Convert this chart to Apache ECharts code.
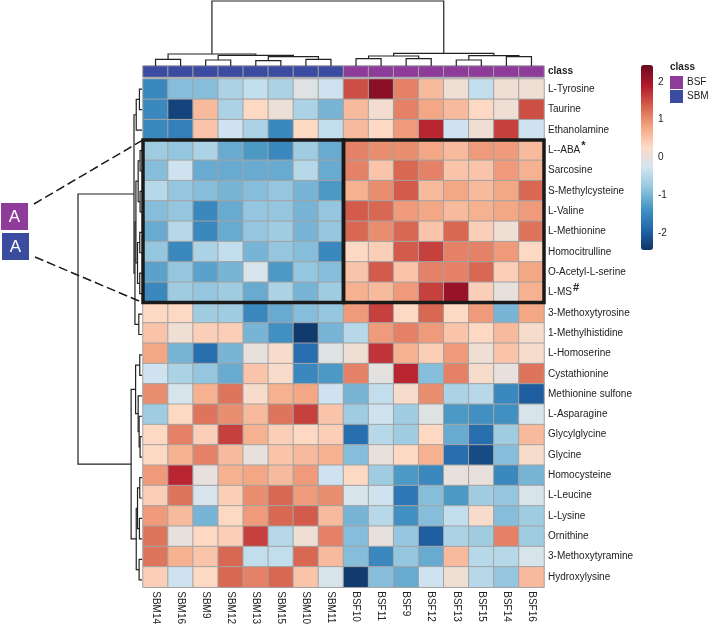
<!DOCTYPE html>
<html>
<head>
<meta charset="utf-8">
<script src="https://cdn.jsdelivr.net/npm/echarts@6/dist/echarts.min.js"></script>
<style>
  html, body { margin: 0; padding: 0; background: #fff; }
  #heatmap { width: 708px; height: 627px; }
</style>
</head>
<body>
<div id="heatmap"></div>
<script>
// samples (columns), in dendrogram order
var sampleNames = ['SBM14', 'SBM16', 'SBM9', 'SBM12', 'SBM13', 'SBM15', 'SBM10', 'SBM11',
  'BSF10', 'BSF11', 'BSF9', 'BSF12', 'BSF13', 'BSF15', 'BSF14', 'BSF16'];
var sampleClass = ['SBM', 'SBM', 'SBM', 'SBM', 'SBM', 'SBM', 'SBM', 'SBM',
  'BSF', 'BSF', 'BSF', 'BSF', 'BSF', 'BSF', 'BSF', 'BSF'];
var classNames = ['SBM', 'BSF'];

// metabolites (rows), top to bottom
var metabolites = ['L-Tyrosine', 'Taurine', 'Ethanolamine', 'L--ABA', 'Sarcosine', 'S-Methylcysteine',
  'L-Valine', 'L-Methionine', 'Homocitrulline', 'O-Acetyl-L-serine', 'L-MS', '3-Methoxytyrosine',
  '1-Methylhistidine', 'L-Homoserine', 'Cystathionine', 'Methionine sulfone', 'L-Asparagine',
  'Glycylglycine', 'Glycine', 'Homocysteine', 'L-Leucine', 'L-Lysine', 'Ornithine',
  '3-Methoxytyramine', 'Hydroxylysine'];
var labelMarks = { 'L--ABA': '*', 'L-MS': '#' };

// scaled intensities, one row per metabolite
var zScores = [
  [-1.5, -0.9, -0.9, -0.6, -0.4, -0.6, -0.1, -0.3, 1.5, 2.2, 1.1, 0.6, 0.1, -0.4, 0.1, 0.1],
  [-1.5, -2.3, 0.6, -0.6, 0.3, 0.05, -0.6, -1.0, 0.6, 0.15, 1.1, 0.8, 0.6, 0.3, 0.1, 1.5],
  [-1.5, -1.6, 0.5, -0.3, -0.6, -1.5, 0.3, -0.4, 0.6, 0.3, 0.9, 1.8, -0.3, 0.1, 1.6, -0.3],
  [-0.7, -0.8, -0.6, -1.1, -1.3, -1.5, -0.7, -1.1, 1.1, 1.0, 1.0, 0.8, 0.6, 0.9, 0.9, 0.6],
  [-0.9, -0.3, -1.1, -1.1, -1.1, -1.1, -0.5, -1.1, 1.1, 0.5, 1.3, 1.1, 0.5, 0.5, 0.9, 0.7],
  [-0.5, -0.8, -0.9, -1.0, -0.9, -0.8, -1.0, -1.3, 0.7, 1.0, 1.4, 0.6, 0.8, 0.6, 0.8, 1.3],
  [-0.9, -0.8, -1.5, -1.1, -0.8, -0.8, -1.0, -0.8, 1.4, 1.3, 0.9, 0.8, 0.6, 0.7, 0.8, 0.9],
  [-1.1, -0.5, -1.5, -1.1, -0.8, -0.7, -1.0, -0.8, 1.3, 1.0, 1.3, 0.5, 1.3, 0.4, 0.1, 1.2],
  [-0.8, -1.5, -0.6, -0.4, -1.0, -0.8, -0.9, -1.5, 0.3, 0.4, 1.4, 1.6, 1.1, 1.1, 0.9, 0.3],
  [-1.2, -0.8, -1.2, -1.0, -0.2, -1.3, -0.8, -0.9, 0.5, 1.4, 0.5, 1.1, 1.1, 1.3, 0.4, 0.8],
  [-1.5, -0.7, -0.8, -0.7, -1.1, -0.6, -1.0, -0.7, 0.7, 0.6, 0.9, 1.6, 2.1, 0.4, 0.0, 0.7],
  [0.3, 0.3, -0.7, -0.7, -1.5, -1.1, -0.9, -0.8, 0.9, 1.6, 0.3, 1.3, 0.3, 0.9, -1.0, 0.8],
  [0.5, 0.1, 0.4, 0.4, -1.0, -1.4, -2.4, -1.0, -0.5, 0.9, 1.1, 0.9, 0.5, 0.3, 0.6, 0.2],
  [0.8, -1.0, -1.8, -1.0, 0.0, 0.2, -1.8, -0.1, 0.1, 1.7, 0.7, 0.4, 0.9, 0.1, 0.5, 0.2],
  [-0.3, -0.6, -0.8, -1.1, 0.5, 0.2, -1.5, -1.3, 1.1, -0.05, 1.8, -0.9, 1.1, 0.2, 0.0, 1.2],
  [1.0, -0.2, 0.7, 1.2, 0.2, 0.7, 0.8, -0.3, -1.0, -0.4, 0.2, 1.0, -0.6, -0.5, -1.5, -2.0],
  [-0.7, 0.3, 1.2, 1.0, 0.6, 1.2, 1.6, 0.5, -0.7, -0.3, -0.7, -0.1, -1.3, -1.4, -1.4, -0.2],
  [0.3, 1.1, 0.4, 1.6, 0.7, 0.4, 0.3, 0.4, -1.8, -0.5, -0.7, 0.3, -1.1, -1.8, -0.7, 0.6],
  [0.3, 0.7, 1.1, 0.6, 0.0, 0.5, 0.6, 0.7, -0.9, 0.0, 0.3, 0.7, -1.8, -2.2, -0.9, 0.2],
  [0.9, 1.8, 0.0, 0.7, 0.8, 0.6, 0.9, -0.3, 0.3, -0.7, -1.3, -1.5, 0.0, 0.0, -1.5, -1.0],
  [0.4, 1.2, -0.2, 0.4, 1.0, 1.3, 0.9, 1.0, -0.2, -0.3, -1.7, -0.9, -1.3, -0.7, -0.8, -0.2],
  [0.9, 0.6, -1.0, 0.3, 0.9, 1.3, 1.4, 0.6, -1.0, -0.5, -1.4, -0.9, -0.4, 0.2, -0.9, -0.7],
  [1.2, 0.0, 0.3, 0.4, 1.6, -0.5, 0.1, 1.1, -0.9, 0.0, -0.8, -2.0, -0.6, -0.7, 1.1, -0.7],
  [1.2, 0.7, 0.5, 1.3, -0.4, -0.4, 1.3, 0.6, -0.9, -1.5, -0.8, -1.1, 0.6, -0.5, -0.5, -0.2],
  [0.4, -0.3, 0.3, 1.3, 1.1, 1.3, 0.5, -0.2, -2.4, -0.9, -1.1, -0.3, 0.1, -0.5, -0.8, 0.6]
];

// dendrograms: [childA, childB, height]; leaves are 0..n-1, merge k becomes node n+k
var sampleMerges = [
  [0, 1, 1.03], [2, 3, 0.92], [4, 5, 0.82], [6, 7, 1.03], [18, 19, 1.44], [17, 20, 1.64],
  [16, 21, 1.85], [8, 9, 1.13], [10, 11, 1.13], [23, 24, 1.54], [12, 13, 0.92], [14, 15, 1.44],
  [26, 27, 1.59], [25, 28, 1.95], [22, 29, 10]
];
var metaboliteMerges = [
  [0, 1, 0.4], [25, 2, 0.9], [3, 4, 0.3], [5, 6, 0.3], [27, 28, 0.6], [7, 8, 0.35],
  [9, 10, 0.35], [30, 31, 0.7], [29, 32, 0.95], [11, 12, 0.5], [33, 34, 1.1], [26, 35, 1.25],
  [13, 14, 0.35], [17, 18, 0.3], [16, 38, 0.45], [15, 39, 0.6], [37, 40, 1.0], [19, 20, 0.35],
  [21, 22, 0.4], [42, 43, 0.7], [23, 24, 0.45], [44, 45, 0.9], [41, 46, 1.7], [36, 47, 10]
];

// highlighted blocks: [firstCol, lastCol, firstRow, lastRow]
var boxes = [[0, 7, 3, 10], [8, 15, 3, 10]];

var colorRamp = ['#0f3568', '#2166AC', '#4393C3', '#92C5DE', '#D1E5F0',
  '#FDDBC7', '#F4A582', '#D6604D', '#B2182B', '#6a0a20'];
var classColors = { 'BSF': '#8e3b9a', 'SBM': '#3b4ba0' };
var fontName = '"Liberation Sans", Arial, sans-serif';

// turn a merge list into U-shaped links [posA, hA, posB, hB, h]
function dendroLinks(merges, n) {
  var pos = [], hgt = [];
  for (var i = 0; i < n; i++) { pos.push(i); hgt.push(0); }
  var links = [];
  merges.forEach(function (m) {
    var a = m[0], b = m[1];
    links.push([pos[a], hgt[a], pos[b], hgt[b], m[2]]);
    pos.push((pos[a] + pos[b]) / 2);
    hgt.push(m[2]);
  });
  return links;
}

var cellData = [];
for (var r = 0; r < metabolites.length; r++) {
  for (var c = 0; c < sampleNames.length; c++) {
    cellData.push([c, r, zScores[r][c]]);
  }
}
var classData = sampleClass.map(function (k, c) { return [c, 0, classNames.indexOf(k)]; });

var chart = echarts.init(document.getElementById('heatmap'));

var option = {
  backgroundColor: '#fff',
  animation: false,
  textStyle: { fontFamily: fontName },
  grid: [
    { left: 143, top: 79, width: 401, height: 511 },  // heatmap
    { left: 143, top: 66, width: 401, height: 11 },   // class bar
    { left: 143, top: 1, width: 401, height: 65 },    // sample tree
    { left: 78, top: 79, width: 64, height: 511 },    // metabolite tree
    { left: 641, top: 65, width: 12, height: 185 }    // colour key ticks
  ],
  xAxis: [
    {
      type: 'category', gridIndex: 0, data: sampleNames, position: 'bottom',
      axisLine: { show: false }, axisTick: { show: false }, splitLine: { show: false },
      axisLabel: { rotate: -90, margin: 4, fontSize: 10, color: '#222', interval: 0 }
    },
    { type: 'category', gridIndex: 1, data: sampleNames, show: false },
    { type: 'value', gridIndex: 2, min: -0.5, max: 15.5, show: false },
    { type: 'value', gridIndex: 3, min: 0, max: 10, inverse: true, show: false },
    { type: 'value', gridIndex: 4, show: false }
  ],
  yAxis: [
    {
      type: 'category', gridIndex: 0, data: metabolites, inverse: true, position: 'right',
      axisLine: { show: false }, axisTick: { show: false }, splitLine: { show: false },
      axisLabel: {
        margin: 4, fontSize: 10, color: '#222', interval: 0,
        formatter: function (v) {
          return labelMarks[v] ? '{n|' + v + '}{s|' + labelMarks[v] + '}' : v;
        },
        rich: {
          n: { fontSize: 10, color: '#222' },
          s: { fontSize: 11, color: '#222', fontWeight: 'bold', padding: [0, 0, 8, 1] }
        }
      }
    },
    {
      type: 'category', gridIndex: 1, data: ['class'], position: 'right',
      axisLine: { show: false }, axisTick: { show: false },
      axisLabel: { margin: 4, fontSize: 10, fontWeight: 'bold', color: '#222' }
    },
    { type: 'value', gridIndex: 2, min: 0, max: 10, show: false },
    { type: 'value', gridIndex: 3, min: -0.5, max: 24.5, inverse: true, show: false },
    {
      type: 'value', gridIndex: 4, min: -2.45, max: 2.45, position: 'right',
      axisLine: { show: false }, axisTick: { show: false }, splitLine: { show: false },
      axisLabel: {
        margin: 5, fontSize: 10, color: '#222', showMinLabel: false, showMaxLabel: false,
        formatter: function (v) { return Math.abs(v - Math.round(v)) < 1e-6 ? String(Math.round(v)) : ''; }
      }
    }
  ],
  visualMap: [
    {
      type: 'continuous', seriesIndex: 0, min: -2.45, max: 2.45,
      inRange: { color: colorRamp }, calculable: false, orient: 'vertical',
      left: 641, top: 65, itemWidth: 12, itemHeight: 185, padding: 0, text: null,
      hoverLink: false
    },
    {
      type: 'piecewise', seriesIndex: 1, dimension: 2, orient: 'vertical', align: 'left',
      itemSymbol: 'rect',
      pieces: [
        { value: 1, label: 'BSF', color: classColors.BSF },
        { value: 0, label: 'SBM', color: classColors.SBM }
      ],
      left: 670, top: 76, itemWidth: 13, itemHeight: 13, itemGap: 1, textGap: 4,
      padding: 0, selectedMode: false, hoverLink: false,
      textStyle: { fontSize: 10, color: '#222' }
    }
  ],
  series: [
    {
      type: 'heatmap', xAxisIndex: 0, yAxisIndex: 0, data: cellData,
      itemStyle: { borderColor: '#a3a3a3', borderWidth: 1 },
      emphasis: { disabled: true }
    },
    {
      type: 'heatmap', xAxisIndex: 1, yAxisIndex: 1, data: classData,
      itemStyle: { borderColor: '#a3a3a3', borderWidth: 1 },
      emphasis: { disabled: true }
    },
    {
      type: 'custom', xAxisIndex: 2, yAxisIndex: 2, clip: false,
      data: dendroLinks(sampleMerges, sampleNames.length),
      renderItem: function (params, api) {
        var pts = [
          api.coord([api.value(0), api.value(1)]),
          api.coord([api.value(0), api.value(4)]),
          api.coord([api.value(2), api.value(4)]),
          api.coord([api.value(2), api.value(3)])
        ];
        return { type: 'polyline', shape: { points: pts }, style: { stroke: '#222', lineWidth: 1.2, fill: null } };
      }
    },
    {
      type: 'custom', xAxisIndex: 3, yAxisIndex: 3, clip: false,
      data: dendroLinks(metaboliteMerges, metabolites.length),
      renderItem: function (params, api) {
        var pts = [
          api.coord([api.value(1), api.value(0)]),
          api.coord([api.value(4), api.value(0)]),
          api.coord([api.value(4), api.value(2)]),
          api.coord([api.value(3), api.value(2)])
        ];
        return { type: 'polyline', shape: { points: pts }, style: { stroke: '#222', lineWidth: 1.2, fill: null } };
      }
    },
    {
      type: 'custom', xAxisIndex: 0, yAxisIndex: 0, clip: false, z: 5,
      data: boxes,
      renderItem: function (params, api) {
        var a = api.coord([api.value(0), api.value(2)]);
        var b = api.coord([api.value(1), api.value(3)]);
        var s = api.size([1, 1]);
        return {
          type: 'rect',
          shape: { x: a[0] - s[0] / 2, y: a[1] - s[1] / 2, width: b[0] - a[0] + s[0], height: b[1] - a[1] + s[1] },
          style: { stroke: '#1a1a1a', lineWidth: 3.5, fill: null }
        };
      }
    }
  ]
};

chart.setOption(option);

// callouts from the "A" tags to the left edge of the highlighted block
var cellW = 401 / sampleNames.length, cellH = 511 / metabolites.length;
var topCell = chart.convertToPixel({ gridIndex: 0 }, [boxes[0][0], boxes[0][2]]);
var botCell = chart.convertToPixel({ gridIndex: 0 }, [boxes[0][0], boxes[0][3]]);
var topCorner = [topCell[0] - cellW / 2, topCell[1] - cellH / 2];
var botCorner = [botCell[0] - cellW / 2, botCell[1] + cellH / 2];

chart.setOption({
  graphic: [
    { type: 'text', left: 670, top: 62, style: { text: 'class', font: 'bold 10px ' + fontName, fill: '#222' } },
    { type: 'rect', shape: { x: 1, y: 203, width: 27, height: 27 }, style: { fill: classColors.BSF } },
    { type: 'text', x: 14.5, y: 217, style: { text: 'A', font: '17px ' + fontName, fill: '#fff', align: 'center', verticalAlign: 'middle' } },
    { type: 'rect', shape: { x: 2, y: 233, width: 27, height: 27 }, style: { fill: classColors.SBM } },
    { type: 'text', x: 15.5, y: 247, style: { text: 'A', font: '17px ' + fontName, fill: '#fff', align: 'center', verticalAlign: 'middle' } },
    {
      type: 'line', shape: { x1: 34, y1: 204, x2: topCorner[0], y2: topCorner[1] },
      style: { stroke: '#1a1a1a', lineWidth: 1.5, lineDash: [9, 4] }
    },
    {
      type: 'line', shape: { x1: 35, y1: 257, x2: botCorner[0], y2: botCorner[1] },
      style: { stroke: '#1a1a1a', lineWidth: 1.5, lineDash: [9, 4] }
    }
  ]
});
</script>
</body>
</html>
